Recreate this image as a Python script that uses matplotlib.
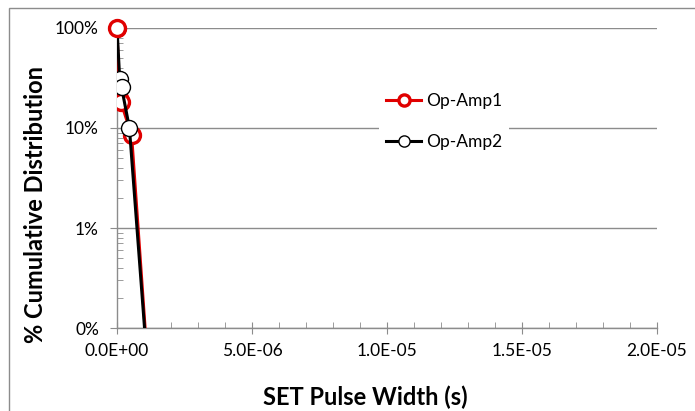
import matplotlib
matplotlib.use("Agg")
import matplotlib.pyplot as plt
from matplotlib.patches import Rectangle
from matplotlib.ticker import FixedLocator, MultipleLocator, NullFormatter

plt.rcParams['font.family'] = ['Lato', 'DejaVu Sans']

# data (x in seconds, y as cumulative fraction)
opamp1_x = [0.0, 0.08e-6, 0.15e-6, 0.54e-6, 1.3e-6]
opamp1_y = [1.0, 0.20, 0.18, 0.085, 0.0001]
opamp2_x = [0.0, 0.10e-6, 0.17e-6, 0.46e-6, 1.3e-6]
opamp2_y = [1.0, 0.31, 0.255, 0.10, 0.0001]

x_ticks = [0, 5e-6, 1e-5, 1.5e-5, 2e-5]
x_labels = ['0.0E+00', '5.0E-06', '1.0E-05', '1.5E-05', '2.0E-05']
y_ticks = [0.001, 0.01, 0.1, 1.0]
y_labels = ['0%', '1%', '10%', '100%']

fig = plt.figure(figsize=(6.95, 4.11), dpi=100)
ax = fig.add_axes([117 / 695, 1 - 328 / 411, 540 / 695, 300 / 411])

# outer chart frame (Excel style)
fig.patches.append(Rectangle((9 / 695, -0.1), 1.2, 1 - 8 / 411 + 0.1,
                             transform=fig.transFigure, fill=False,
                             edgecolor='#8c8c8c', linewidth=1.0))

red = '#e00000'
ax.plot(opamp1_x, opamp1_y, color=red, lw=2.2, marker='o', markersize=11.5,
        markerfacecolor='white', markeredgecolor=red, markeredgewidth=2.4,
        markevery=[0, 1, 2, 3], label='Op-Amp1', zorder=3, clip_on=True)
ax.plot(opamp2_x, opamp2_y, color='black', lw=2.2, marker='o', markersize=11.5,
        markerfacecolor='white', markeredgecolor='black', markeredgewidth=1.0,
        markevery=[1, 2, 3], label='Op-Amp2', zorder=4, clip_on=True)
# red marker at 100% sits on top
ax.plot(opamp1_x[:1], opamp1_y[:1], ls='none', marker='o', markersize=11.5,
        markerfacecolor='white', markeredgecolor=red, markeredgewidth=2.4,
        zorder=5, clip_on=False)

ax.set_yscale('log')
ax.set_xlim(0, 2e-5)
ax.set_ylim(0.001, 1.0)

ax.yaxis.set_major_locator(FixedLocator(y_ticks))
ax.set_yticklabels(y_labels)
ax.yaxis.set_minor_locator(FixedLocator(
    [m * 10.0 ** e for e in (-3, -2, -1) for m in range(2, 10)]))
ax.yaxis.set_minor_formatter(NullFormatter())
ax.set_xticks(x_ticks)
ax.set_xticklabels(x_labels)
ax.xaxis.set_minor_locator(MultipleLocator(1e-6))

ax.grid(axis='y', which='major', color='#8c8c8c', linewidth=1.0)
ax.set_axisbelow(True)
for s in ('top', 'right'):
    ax.spines[s].set_visible(False)
for s in ('left', 'bottom'):
    ax.spines[s].set_color('#8c8c8c')
    ax.spines[s].set_linewidth(1.0)

ax.tick_params(axis='y', which='major', direction='out', length=5,
               color='#8c8c8c', labelsize=12.5, pad=8)
ax.tick_params(axis='y', which='minor', direction='in', length=4,
               color='#8c8c8c')
ax.tick_params(axis='x', which='major', direction='inout', length=9,
               color='#8c8c8c', labelsize=12.5, pad=6)
ax.tick_params(axis='x', which='minor', direction='in', length=4,
               color='#8c8c8c')

leg = ax.legend(loc='upper left', bbox_to_anchor=(0.47, 0.835), frameon=True,
                edgecolor='none', facecolor='white', framealpha=1.0,
                fontsize=12.5, markerscale=0.7, handlelength=2.0,
                handletextpad=0.3, labelspacing=1.45, borderpad=0.4)
leg.set_zorder(6)

fig.text(365 / 695, 1 - 397 / 411, 'SET Pulse Width (s)', ha='center',
         va='center', fontsize=17, fontweight='bold')
fig.text(36 / 695, 1 - 204 / 411, '% Cumulative Distribution', ha='center',
         va='center', rotation=90, fontsize=17, fontweight='bold')

fig.savefig('out.png', dpi=100)
